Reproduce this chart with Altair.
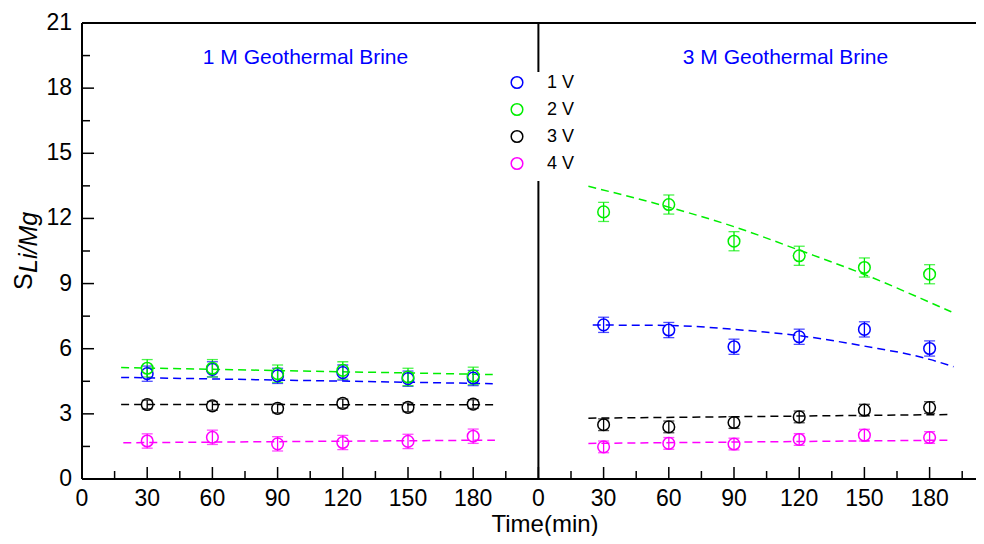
import altair as alt
import pandas as pd

FONT = "Liberation Sans"

# ---------------- data ----------------
series = ["1 V", "2 V", "3 V", "4 V"]
colors = ["#0000FF", "#00EE00", "#000000", "#FF00FF"]
panel_titles = ["1 M Geothermal Brine", "3 M Geothermal Brine"]
panel_span = 210          # minutes shown per panel (second panel starts after it)
times = [30, 60, 90, 120, 150, 180]

# 1 M Geothermal Brine: measured S(Li/Mg)
m1_vals = {
    "1 V": [4.85, 5.05, 4.75, 4.9, 4.62, 4.65],
    "2 V": [5.1, 5.1, 4.85, 5.0, 4.7, 4.75],
    "3 V": [3.43, 3.37, 3.25, 3.48, 3.3, 3.45],
    "4 V": [1.75, 1.92, 1.62, 1.68, 1.73, 1.97],
}
m1_err = {"1 V": 0.35, "2 V": 0.4, "3 V": 0.2, "4 V": 0.33}

# 1 M fitted (dashed) lines
m1_fit_t = {"1 V": [18, 189], "2 V": [18, 189], "3 V": [18, 190], "4 V": [19, 190]}
m1_fit_s = {"1 V": [4.68, 4.39], "2 V": [5.13, 4.81], "3 V": [3.43, 3.42], "4 V": [1.67, 1.79]}

# 3 M Geothermal Brine: measured S(Li/Mg)
m3_vals = {
    "1 V": [7.1, 6.86, 6.09, 6.55, 6.89, 6.01],
    "2 V": [12.3, 12.64, 10.95, 10.28, 9.74, 9.43],
    "3 V": [2.5, 2.4, 2.6, 2.86, 3.17, 3.29],
    "4 V": [1.48, 1.64, 1.61, 1.82, 2.02, 1.91],
}
m3_err = {"1 V": 0.35, "2 V": 0.44, "3 V": 0.27, "4 V": 0.27}

# 3 M fitted (dashed) curves
m3_fit_t = {
    "1 V": [25, 60, 90, 120, 150, 180, 191],
    "2 V": [23, 60, 90, 120, 150, 180, 190],
    "3 V": [23, 190],
    "4 V": [23, 190],
}
m3_fit_s = {
    "1 V": [7.09, 7.07, 6.89, 6.6, 6.12, 5.51, 5.17],
    "2 V": [13.48, 12.52, 11.62, 10.54, 9.42, 8.14, 7.7],
    "3 V": [2.8, 2.97],
    "4 V": [1.64, 1.79],
}

y_major = [0, 3, 6, 9, 12, 15, 18, 21]
y_minor = [1.5, 4.5, 7.5, 10.5, 13.5, 16.5, 19.5]
x_major = [0, 30, 60, 90, 120, 150, 180]
x_minor = [15, 45, 75, 105, 135, 165, 195]
x_title = "Time(min)"

# ---------------- tables ----------------
pts_rows, fit_rows = [], []
for p, vals, err, ft, fs in [("1 M", m1_vals, m1_err, m1_fit_t, m1_fit_s),
                             ("3 M", m3_vals, m3_err, m3_fit_t, m3_fit_s)]:
    for s in series:
        for t, v in zip(times, vals[s]):
            pts_rows.append({"panel": p, "series": s, "t": t, "s": v,
                             "lo": v - err[s], "hi": v + err[s]})
        for t, v in zip(ft[s], fs[s]):
            fit_rows.append({"panel": p, "series": s, "t": t, "s": v})
pts = pd.DataFrame(pts_rows)
fit = pd.DataFrame(fit_rows)

xmaj_df = pd.DataFrame({"v": x_major + [v + panel_span for v in x_major]})
xmin_df = pd.DataFrame({"v": x_minor + [v + panel_span for v in x_minor]})
ymaj_df = pd.DataFrame({"v": y_major})
ymin_df = pd.DataFrame({"v": y_minor})

W, H = 894, 456
XMAX = W / (456.4 / panel_span)     # same minutes-per-pixel in both panels
xs = alt.Scale(domain=[0, XMAX], nice=False, zero=False)
ys = alt.Scale(domain=[0, 21], nice=False, zero=False)
shift = f"datum.t + (datum.panel == '3 M' ? {panel_span} : 0)"

cscale = alt.Scale(domain=series, range=colors)
C = alt.Color("series:N", scale=cscale, legend=None)
X = alt.X("x:Q", scale=xs, axis=None)
one = pd.DataFrame({"k": [0]})

lines = alt.Chart(fit).transform_calculate(x=shift).mark_line(
    strokeDash=[8, 5], strokeWidth=1.5, interpolate="monotone").encode(
    x=X, y=alt.Y("s:Q", scale=ys, axis=None), color=C, detail="panel:N",
)
rules = alt.Chart(pts).transform_calculate(x=shift).mark_rule(strokeWidth=1.3).encode(
    x=X, y=alt.Y("lo:Q", scale=ys, axis=None), y2="hi:Q", color=C,
)
caps = alt.Chart(pts).transform_calculate(x=shift).transform_fold(
    ["lo", "hi"], as_=["end", "cy"]).mark_tick(
    orient="horizontal", size=11, thickness=1.3).encode(
    x=X, y=alt.Y("cy:Q", scale=ys, axis=None), color=C,
)
points = alt.Chart(pts).transform_calculate(x=shift).mark_point(
    shape="circle", filled=False, size=135, strokeWidth=1.5, opacity=1).encode(
    x=X, y=alt.Y("s:Q", scale=ys, axis=None), color=C,
)

# ---------------- axes (drawn as marks: inward ticks, frame) ----------------
rule_kw = dict(color="black", strokeWidth=1.5)
xt_major = alt.Chart(xmaj_df).mark_rule(**rule_kw).encode(
    x=alt.X("v:Q", scale=xs, axis=None), y=alt.value(H), y2=alt.value(H - 12))
xt_minor = alt.Chart(xmin_df).mark_rule(**rule_kw).encode(
    x=alt.X("v:Q", scale=xs, axis=None), y=alt.value(H), y2=alt.value(H - 8))
yt_major = alt.Chart(ymaj_df).mark_rule(**rule_kw).encode(
    y=alt.Y("v:Q", scale=ys, axis=None), x=alt.value(0), x2=alt.value(12))
yt_minor = alt.Chart(ymin_df).mark_rule(**rule_kw).encode(
    y=alt.Y("v:Q", scale=ys, axis=None), x=alt.value(0), x2=alt.value(8))

frame_kw = dict(color="black", strokeWidth=2)
top_border = alt.Chart(one).mark_rule(**frame_kw).encode(
    x=alt.value(0), x2=alt.value(W), y=alt.value(0))
bottom_axis = alt.Chart(one).mark_rule(**frame_kw).encode(
    x=alt.value(0), x2=alt.value(W), y=alt.value(H))
left_axis = alt.Chart(one).mark_rule(**frame_kw).encode(
    x=alt.value(0), y=alt.value(0), y2=alt.value(H))
divider = alt.Chart(pd.DataFrame({"v": [panel_span]})).mark_rule(**frame_kw).encode(
    x=alt.X("v:Q", scale=xs, axis=None), y=alt.value(0), y2=alt.value(H))

# tick labels
x_labels = alt.Chart(xmaj_df).transform_calculate(
    lab=f"datum.v >= {panel_span} ? datum.v - {panel_span} : datum.v").mark_text(
    font=FONT, fontSize=23, color="black", align="center", baseline="alphabetic").encode(
    x=alt.X("v:Q", scale=xs, axis=None), y=alt.value(H + 27), text="lab:Q")
y_labels = alt.Chart(ymaj_df).mark_text(
    font=FONT, fontSize=23, color="black", align="right", baseline="middle").encode(
    y=alt.Y("v:Q", scale=ys, axis=None), x=alt.value(-10), text="v:Q")
x_title_mark = alt.Chart(pd.DataFrame({"label": [x_title]})).mark_text(
    font=FONT, fontSize=24, color="black", align="center", baseline="alphabetic").encode(
    x=alt.value(463), y=alt.value(H + 53), text="label:N")

# y title  S_{Li/Mg}
ttl_s = alt.Chart(pd.DataFrame({"label": ["S"]})).mark_text(
    font=FONT, fontSize=25, color="black", angle=270, align="left",
    baseline="alphabetic").encode(x=alt.value(-50), y=alt.value(267), text="label:N")
ttl_sub = alt.Chart(pd.DataFrame({"label": ["Li/Mg"]})).mark_text(
    font=FONT, fontSize=25, fontStyle="italic", color="black", angle=270,
    align="left", baseline="alphabetic").encode(x=alt.value(-45), y=alt.value(250),
                                                 text="label:N")

# panel labels
notes = [
    alt.Chart(pd.DataFrame({"label": [txt]})).mark_text(
        font=FONT, fontSize=21, color="#0000FF", align="center", baseline="alphabetic"
    ).encode(x=alt.value(px), y=alt.value(40.5), text="label:N")
    for txt, px in zip(panel_titles, [223.5, 703.5])
]

# legend (white box over the divider)
leg_box = alt.Chart(one).mark_rect(color="white").encode(
    x=alt.value(420), x2=alt.value(505), y=alt.value(49), y2=alt.value(158))
legend_layers = [leg_box]
for i, s in enumerate(series):
    legend_layers.append(
        alt.Chart(pd.DataFrame({"series": [s]})).mark_point(
            shape="circle", filled=False, size=135, strokeWidth=1.5, opacity=1).encode(
            x=alt.value(435), y=alt.value(59.5 + 27 * i), color=C))
    legend_layers.append(
        alt.Chart(pd.DataFrame({"series": [s]})).mark_text(
            font=FONT, fontSize=18, color="black", align="left", baseline="middle").encode(
            x=alt.value(465), y=alt.value(59.5 + 27 * i), text="series:N"))

chart = alt.layer(
    lines, xt_major, xt_minor, yt_major, yt_minor, top_border, divider,
    bottom_axis, left_axis, rules, caps, points, *legend_layers, *notes,
    x_labels, y_labels, x_title_mark, ttl_s, ttl_sub
).properties(
    width=W, height=H,
    autosize=alt.AutoSizeParams(type="none"),
    padding={"left": 74, "top": 15, "right": 0, "bottom": 57},
    background="white",
).configure_view(strokeWidth=0, stroke="transparent")

chart.save("out.html", embed_options={"renderer": "svg", "actions": False})
